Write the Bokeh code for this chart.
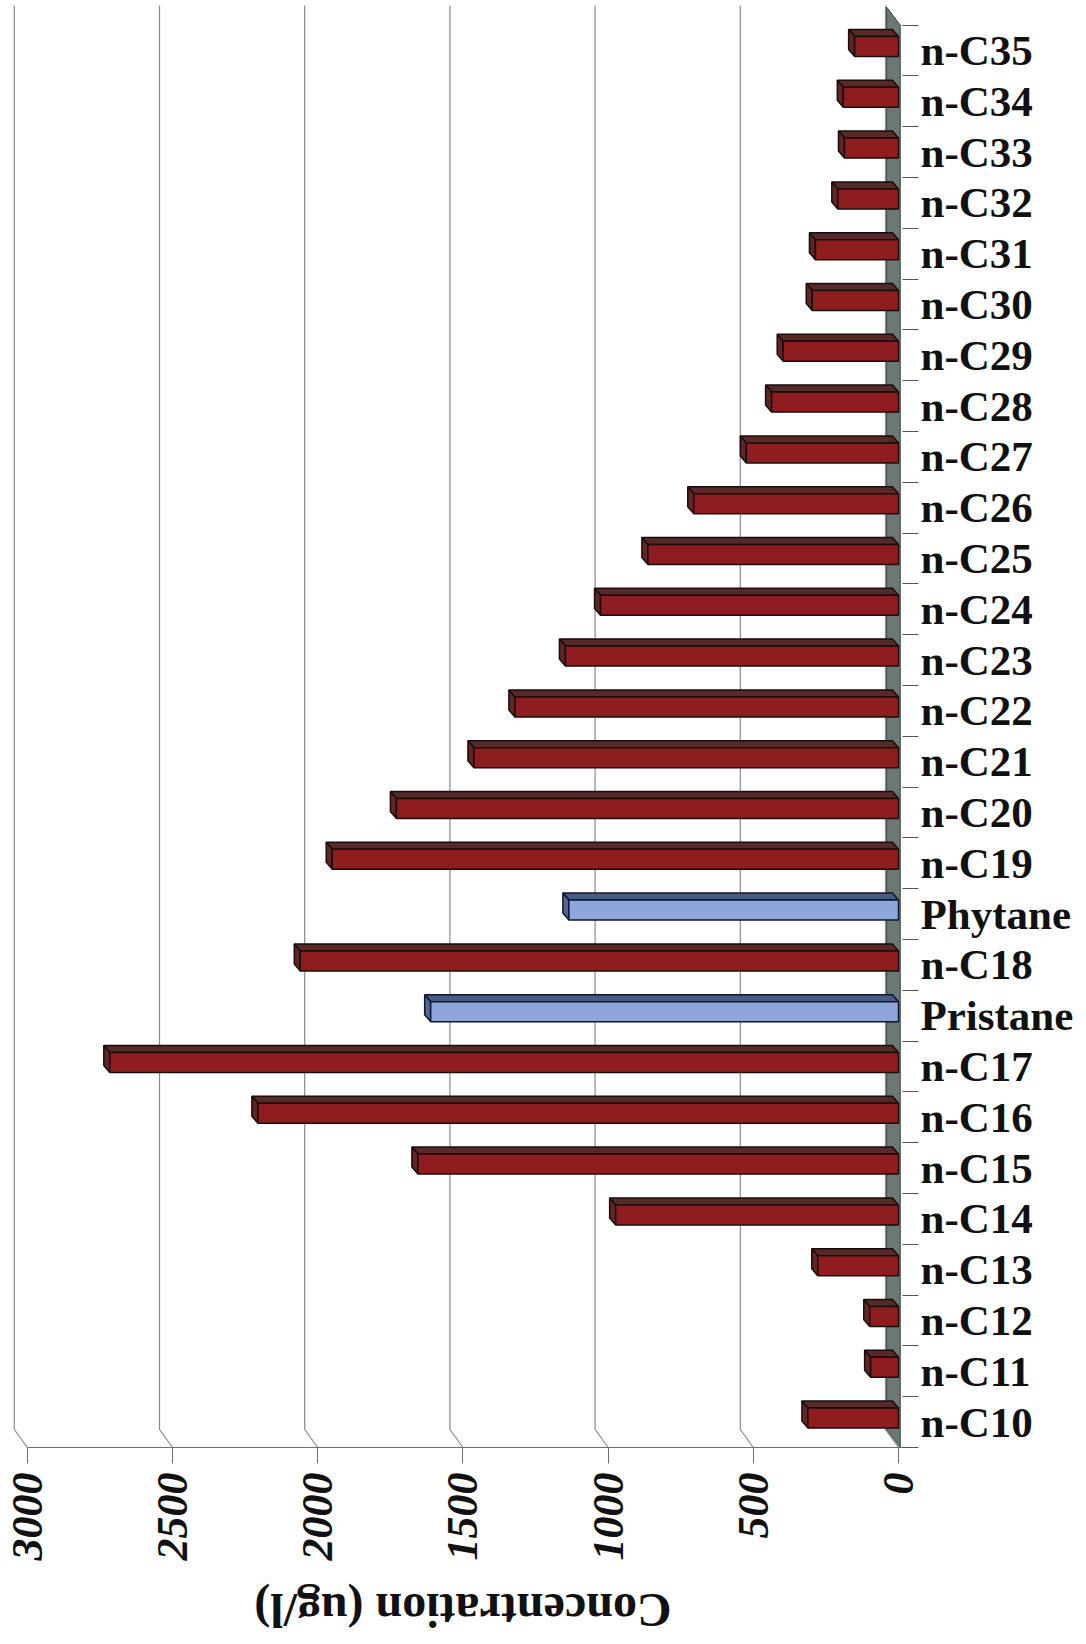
import math

from bokeh.core.properties import value
from bokeh.embed import file_html
from bokeh.models import ColumnDataSource, FixedTicker, LinearAxis, Range1d
from bokeh.plotting import figure
from bokeh.resources import INLINE

# Hydrocarbon concentrations (ug/l), listed from the bottom row upward
compounds = [
    "n-C10", "n-C11", "n-C12", "n-C13", "n-C14", "n-C15", "n-C16", "n-C17",
    "Pristane", "n-C18", "Phytane",
    "n-C19", "n-C20", "n-C21", "n-C22", "n-C23", "n-C24", "n-C25", "n-C26",
    "n-C27", "n-C28", "n-C29", "n-C30", "n-C31", "n-C32", "n-C33", "n-C34", "n-C35",
]
concentration = [
    312, 96, 99, 278, 974, 1655, 2206, 2716,
    1611, 2060, 1135,
    1950, 1729, 1462, 1321, 1147, 1026, 863, 705,
    524, 437, 397, 297, 286, 209, 186, 190, 151,
]
isoprenoids = ["Pristane", "Phytane"]
value_ticks = [0, 500, 1000, 1500, 2000, 2500, 3000]
value_title = "Concentration (ug/l)"

# --- styling -------------------------------------------------------------
RED_FRONT, RED_TOP, RED_SIDE, RED_EDGE = "#8e1d20", "#552a27", "#5e2624", "#1b0d0c"
BLUE_FRONT, BLUE_TOP, BLUE_SIDE, BLUE_EDGE = "#8ea6d9", "#475b84", "#52668f", "#0e1830"
WALL_FILL, WALL_EDGE = "#6b7873", "#3b433f"
GRID_COLOR = "#8a8a8a"
SERIF = "Liberation Serif"

PX_PER_UNIT = 0.29039          # horizontal scale of the frame
PX_PER_ROW = 50.8              # vertical size of one category band

# depth offsets of the 3-D look, expressed in data units
WALL_DX = 13 / PX_PER_UNIT
WALL_DY = 18 / PX_PER_ROW
BAR_DX = 6 / PX_PER_UNIT
BAR_DY = 7 / PX_PER_ROW
FRONT_H = 20 / PX_PER_ROW
FRONT_SHIFT = 4 / PX_PER_ROW   # front face sits a little above the band centre
TICK_LEN = 16

n = len(compounds)
rows = list(range(n))
y_base = -0.5                  # the value axis runs along the bottom of the first band
below_rows = 197 / PX_PER_ROW  # room kept under the value axis for labels and title

p = figure(
    width=1086, height=1644,
    output_backend="svg", toolbar_location=None,
    x_range=Range1d(3057.9, -68.9),
    y_range=Range1d(y_base - below_rows, n - 0.5 + 0.386),
    y_axis_location=None,
    min_border_left=10, min_border_right=168,
    min_border_top=5, min_border_bottom=0,
)
p.outline_line_color = None
p.xgrid.visible = False
p.ygrid.visible = False
p.background_fill_color = "white"

# back-wall gridlines bending down to the front value axis
y_top = n - 0.5 + 0.5
gx, gy = [], []
for t in value_ticks:
    gx.append([t + WALL_DX, t + WALL_DX, t])
    gy.append([y_top, y_base + WALL_DY, y_base])
p.multi_line(gx, gy, line_color=GRID_COLOR, line_width=1.2)

# category wall (floor of the 3-D chart)
front_x = -6.0
p.patch(
    [front_x, front_x, WALL_DX - 4, WALL_DX - 4],
    [y_base, n - 0.5, n - 0.5 + WALL_DY, y_base + WALL_DY],
    fill_color=WALL_FILL, line_color=WALL_EDGE, line_width=1,
)

# bars: top face, end face, front face
top_xs, top_ys, side_xs, side_ys, fills_top, fills_side, edges = [], [], [], [], [], [], []
front_fill, front_y = [], []
for i, (name, v) in enumerate(zip(compounds, concentration)):
    blue = name in isoprenoids
    yc = i + FRONT_SHIFT
    fb, ft = yc - FRONT_H / 2, yc + FRONT_H / 2
    top_xs.append([0, v, v + BAR_DX, BAR_DX])
    top_ys.append([ft, ft, ft + BAR_DY, ft + BAR_DY])
    side_xs.append([v, v, v + BAR_DX, v + BAR_DX])
    side_ys.append([fb, ft, ft + BAR_DY, fb + BAR_DY])
    fills_top.append(BLUE_TOP if blue else RED_TOP)
    fills_side.append(BLUE_SIDE if blue else RED_SIDE)
    edges.append(BLUE_EDGE if blue else RED_EDGE)
    front_fill.append(BLUE_FRONT if blue else RED_FRONT)
    front_y.append(yc)

p.patches(top_xs, top_ys, fill_color=fills_top, line_color=edges, line_width=1.5)
p.patches(side_xs, side_ys, fill_color=fills_side, line_color=edges, line_width=1.5)
bars = ColumnDataSource(dict(y=front_y, right=concentration, fill=front_fill, edge=edges))
p.hbar(y="y", left=0, right="right", height=FRONT_H, source=bars,
       fill_color="fill", line_color="edge", line_width=1.5)

# value axis, pinned to the bottom of the first band
xa = p.xaxis[0]
xa.fixed_location = y_base
xa.ticker = FixedTicker(ticks=value_ticks)
xa.bounds = (-52, 3000)
xa.axis_line_color = "#6f6f6f"
xa.axis_line_width = 1.2
xa.major_tick_line_color = "#6f6f6f"
xa.major_tick_out = TICK_LEN
xa.major_tick_in = 0
xa.minor_tick_line_color = None
xa.major_label_orientation = math.pi / 2
xa.major_label_standoff = 9
xa.major_label_text_font = SERIF
xa.major_label_text_font_style = "bold italic"
xa.major_label_text_font_size = "44px"
xa.major_label_text_color = "#111111"

# value-axis title, printed upside down and centred under the scale
title_src = ColumnDataSource(dict(
    x=[sum(value_ticks[::len(value_ticks) - 1]) / 2],
    y=[y_base - 163 / PX_PER_ROW],
    text=[value_title],
))
p.text(x="x", y="y", text="text", source=title_src, angle=math.pi,
       text_align="center", text_baseline="middle",
       text_font=value(SERIF), text_font_style="bold", text_font_size="48px",
       text_color="#111111")

# category axis on the right; band dividers reach in from the frame edge to the wall
ya = LinearAxis(
    ticker=FixedTicker(ticks=rows, minor_ticks=[r - 0.5 for r in rows] + [n - 0.5]),
    major_label_overrides={r: c for r, c in zip(rows, compounds)},
    axis_line_color=None,
    major_tick_line_color=None, major_tick_out=0, major_tick_in=0,
    minor_tick_line_color="#555555", minor_tick_out=0, minor_tick_in=TICK_LEN,
    major_label_standoff=2,
    major_label_text_font=SERIF,
    major_label_text_font_style="bold",
    major_label_text_font_size="43px",
    major_label_text_color="#111111",
)
p.add_layout(ya, "right")

open("out.html", "w").write(file_html(p, INLINE))
